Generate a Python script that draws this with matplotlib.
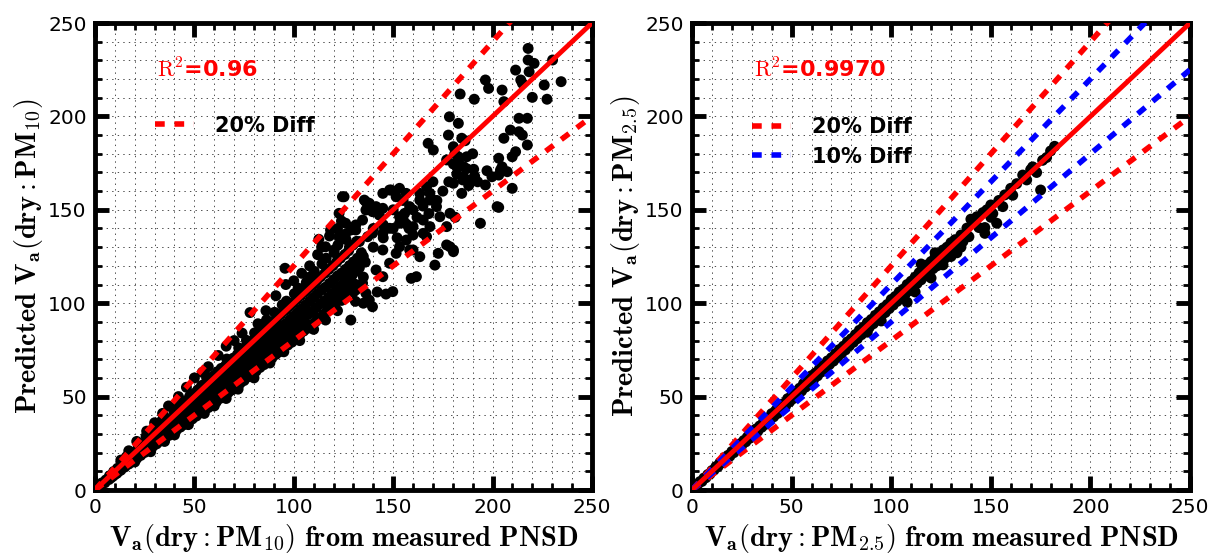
import matplotlib
matplotlib.use('Agg')
import matplotlib.pyplot as plt
import numpy as np
from matplotlib.ticker import MultipleLocator

plt.rcParams['mathtext.fontset'] = 'cm'
plt.rcParams['lines.scale_dashes'] = False

# ---- PM10 panel: dense band along the 1:1 line
pm10_core_x = [3, 3.5, 5, 5.5, 7, 7.3, 8, 9, 9.4, 10,
               11, 11.3, 12, 13, 13.2, 14, 15, 15.4, 16, 15.8,
               17, 17.5, 18, 19, 19.6, 20, 21, 21.3, 22, 21.8,
               23, 23.4, 24, 25, 25.5, 26, 25.7, 27, 27.3, 28,
               29, 29.4, 30, 29.6, 31, 31.5, 32, 33, 33.2, 34,
               33.5, 35, 35.3, 36, 35.6, 37, 37.4, 38, 39, 39.3,
               40, 39.7, 41, 41.4, 42, 41.6, 43, 43.3, 44, 43.5,
               45, 45.4, 46, 45.7, 47, 47.3, 48, 47.6, 49, 49.4,
               50, 49.6, 51, 51.3, 52, 51.7, 53, 53.4, 54, 53.6,
               55, 55.3, 56, 55.5, 56.2, 57, 57.4, 58, 57.6, 59,
               59.3, 60, 59.7, 61, 61.4, 62, 61.6, 63, 63.3, 64,
               63.5, 65, 65.4, 66, 65.7, 66.3, 67, 67.3, 68, 67.6,
               69, 69.4, 70, 69.6, 71, 71.3, 72, 71.7, 72.3, 73,
               73.4, 74, 73.6, 75, 75.3, 76, 75.5, 76.2, 77, 77.4,
               78, 77.6, 79, 79.3, 80, 79.7, 80.3, 81, 81.4, 82,
               81.6, 83, 83.3, 84, 83.5, 84.2, 85, 85.4, 86, 85.7,
               86.3, 87, 87.3, 88, 87.6, 89, 89.4, 90, 89.7, 90.3,
               91, 91.3, 92, 91.6, 93, 93.4, 94, 93.5, 94.2, 95,
               95.3, 96, 95.7, 96.3, 97, 97.4, 98, 97.6, 99, 99.3,
               100, 99.7, 100.3, 101, 101.4, 102, 101.6, 102.2, 103, 103.3,
               104, 103.5, 105, 105.4, 106, 105.7, 106.3, 107, 107.3, 108,
               107.6, 108.2, 109, 109.4, 110, 109.7, 110.3, 111, 111.3, 112,
               111.6, 113, 113.4, 114, 113.5, 114.2, 115, 115.3, 116, 115.7,
               116.3, 117, 117.4, 118, 117.6, 119, 119.3, 120, 119.7, 120.3,
               121, 121.4, 122, 121.6, 122.2, 123, 123.3, 124, 123.5, 125,
               125.4, 126, 125.7, 126.3, 127, 127.3, 128, 127.6, 129, 129.4,
               130, 129.7, 131, 131.3, 132, 131.6, 133, 134, 135, 136]
pm10_core_y = [2.5, 3.8, 3.9, 5.4, 5.6, 7.6, 6.5, 7.3, 9.9, 8.3,
               8.9, 11.6, 10.1, 10.6, 13.8, 12.1, 12.3, 16.6, 14.3, 17.8,
               13.9, 16.1, 18.6, 15.4, 17.7, 20.4, 16.9, 19.8, 22.6, 24.2,
               18.5, 21.3, 24.3, 20.1, 23.1, 26.6, 28.7, 21.6, 24.9, 28.2,
               23.2, 26.6, 30.3, 32.9, 24.7, 28.1, 31.6, 26.3, 29.9, 33.6,
               36.9, 27.6, 31.4, 35.3, 38.6, 29.1, 33.1, 36.9, 30.9, 34.6,
               38.6, 42.1, 32.1, 36.4, 40.3, 44.6, 33.7, 37.9, 42.1, 45.1,
               35.1, 39.6, 43.9, 47.6, 36.6, 41.1, 45.6, 50.1, 38.1, 42.9,
               47.3, 51.6, 39.6, 44.6, 49.1, 53.6, 41.3, 46.1, 51.1, 55.9,
               42.6, 47.6, 52.6, 57.1, 60.6, 44.1, 49.3, 54.6, 59.1, 45.9,
               51.1, 56.3, 61.1, 47.1, 52.6, 58.1, 63.3, 49.1, 54.3, 59.9,
               65.1, 50.6, 56.1, 61.6, 66.6, 70.1, 52.1, 57.6, 63.1, 68.6,
               53.6, 59.3, 65.1, 70.6, 55.1, 61.1, 67.1, 72.6, 76.1, 57.1,
               62.6, 68.6, 74.1, 58.6, 64.6, 70.6, 76.1, 80.1, 60.6, 66.1,
               72.1, 78.1, 62.1, 68.1, 74.1, 80.1, 84.1, 63.6, 70.1, 76.1,
               82.1, 65.6, 71.6, 78.1, 84.1, 88.6, 67.1, 73.6, 80.1, 86.1,
               91.1, 69.1, 75.1, 81.6, 88.1, 70.6, 77.1, 83.6, 90.1, 95.1,
               72.6, 79.1, 85.6, 92.1, 74.1, 80.6, 87.6, 94.1, 99.1, 76.1,
               82.6, 89.1, 96.1, 101.1, 77.6, 84.6, 91.1, 98.1, 79.1, 86.1,
               93.1, 100.1, 105.1, 81.1, 88.1, 95.1, 102.1, 108.1, 83.1, 90.1,
               97.1, 104.1, 85.1, 92.1, 99.1, 106.1, 111.1, 86.6, 94.1, 101.1,
               108.1, 114.1, 88.6, 95.6, 103.1, 110.1, 117.1, 90.1, 97.6, 105.1,
               112.1, 92.1, 99.6, 107.1, 114.1, 121.1, 94.1, 101.1, 108.6, 116.1,
               124.1, 96.1, 103.1, 110.6, 118.1, 98.1, 105.1, 112.6, 120.1, 127.1,
               100.1, 107.1, 114.6, 122.1, 131.1, 102.1, 109.1, 116.1, 124.1, 104.1,
               111.1, 118.1, 126.1, 134.1, 106.1, 113.1, 120.1, 128.1, 108.1, 115.1,
               122.1, 131.1, 110.1, 117.1, 124.1, 133.1, 119, 127, 114, 122]

# points on the upper / lower edges of the band
pm10_edge_x = [13, 17, 21, 26, 30, 34, 37, 42, 46, 50,
               54, 57, 62, 66, 70, 74, 78, 82, 86, 91,
               96, 100, 104, 108, 112, 114, 118, 122, 124, 126,
               20, 28, 35, 40, 47, 55, 60, 66, 72, 80,
               88, 95, 103, 110, 116, 122, 128.7, 131, 135, 139.6,
               138, 146.4, 149.8, 142, 159.1, 161.7, 171, 176.9, 180.3, 172.7,
               90, 94, 98, 102, 106, 112, 118, 124, 130, 134]
pm10_edge_y = [16, 21, 26, 31.5, 36, 41, 45, 50, 55, 60,
               63, 66, 72, 77, 80, 84, 95, 89, 96, 104,
               110, 112, 116, 120, 126, 130, 136, 140, 144, 137,
               15, 20.5, 26, 29.5, 35, 41, 45, 49, 54, 60,
               68, 74, 80, 86, 91, 96, 91, 101, 100, 98.1,
               101.7, 104.9, 106.2, 106, 113.3, 114.2, 120.4, 131.2, 128.5, 126.7,
               74, 77.5, 80.5, 84, 87, 92, 97, 101.5, 106, 109]

# scattered cloud between 110 and 210
pm10_mid_x = [95.6, 112.6, 125.3, 135.5, 138, 139.6, 143, 144.8, 137.2, 139.6,
              128.7, 131.2, 118.5, 122.8, 116, 120.3, 148.2, 153.2, 156.6, 163.4,
              166.8, 168.5, 171.8, 173.5, 176.9, 182, 185.4, 180.3, 184.5, 156.6,
              160, 153.2, 160, 163.4, 166.8, 144.8, 148.2, 141.4, 144.8, 134.6,
              131.2, 136.3, 124.5, 136.3, 144.8, 149, 151.5, 158.3, 155.8, 163.4,
              168.5, 170.2, 193.9, 178.6, 180.3, 165.1, 168.5, 165.1, 160, 148.2,
              144.8, 158.3, 151.5, 122.8, 126.1, 124.4, 131.2, 134.6, 136.3, 141.4,
              153.2, 153.2, 156.6, 135, 140, 145, 150, 155, 140, 150,
              160, 130, 128, 133, 145, 152, 158, 162, 168, 172,
              175, 178, 170, 165, 155, 183, 187, 190, 181, 191,
              185, 188, 204.8, 207.4, 203.1, 202.3]
pm10_mid_y = [118.7, 134.2, 157, 155.2, 153.5, 149, 147.2, 150.8, 135.6, 137.4,
              139.2, 141.9, 139.2, 135.6, 130.2, 128.5, 160.6, 161.5, 158.8, 158.8,
              162.4, 155.2, 151.7, 146.3, 141, 173.1, 167.7, 164.2, 158.8, 133.8,
              136.5, 130.2, 128.5, 124.9, 135.6, 128.5, 121.4, 117.8, 114.2, 110.7,
              107.1, 105.3, 157, 154.3, 158.8, 160.6, 157, 151.7, 148.1, 155.2,
              158.8, 155.2, 142.8, 130.2, 127.6, 144.5, 141, 137.4, 141, 140.1,
              137.4, 128.5, 126.7, 148.1, 142.8, 135.6, 139.2, 144.5, 149.9, 151.7,
              146.3, 142.8, 142.4, 125, 130, 135, 140, 145, 140, 150,
              150, 120, 130, 133, 142, 135, 140, 146, 148, 155,
              160, 165, 165, 152, 155, 175, 172, 180, 180, 168,
              166, 163, 173, 170.4, 168.6, 151.7]

# sparse high-value points
pm10_high_x = [217.9, 217.9, 220.9, 211.6, 218.4, 230.2, 234.5, 214.2, 215, 196.4,
               198, 204.8, 226, 183.7, 190.8, 220, 227.4, 205.7, 178.3, 182.8,
               213.3, 217.5, 209, 213.3, 215, 205.7, 177.8, 184.5, 186.2, 167.6,
               180.3, 170.2, 217.5, 211.6, 209.9, 203.1, 182.8, 187, 176.9, 180.3,
               185.4, 190.5, 197.2, 204, 199.7, 182, 188.8, 192.5, 196.4, 209.9,
               203.1, 178.6, 181.2]
pm10_high_y = [236.4, 230.2, 228.4, 224.8, 223.9, 230.2, 218.6, 219.5, 217.7, 219.5,
               215, 214.1, 216.8, 212, 209.2, 210.2, 209.2, 207.9, 199.8, 196.3,
               199, 199, 192.7, 191.8, 190, 188.3, 190, 188.3, 187, 185.6,
               183.8, 182, 184.7, 181.1, 178.4, 177.6, 178.4, 178.4, 176.7, 174.5,
               173.1, 171.7, 170.9, 171.3, 167.7, 169.2, 166, 165, 163.3, 161.5,
               151.3, 148.1, 146]

# ---- PM2.5 panel
pm25_x = [3, 4, 5, 6, 7, 8, 9, 10, 11, 12,
          13, 14, 15, 16, 17, 18, 19, 20, 21, 22,
          23, 24, 25, 26, 27, 28, 29, 30, 31, 32,
          33, 34, 35, 36, 37, 38, 39, 40, 41, 42,
          43, 44, 45, 46, 47, 48, 49, 50, 51, 52,
          53, 54, 55, 56, 57, 58, 59, 60, 61, 62,
          63, 64, 65, 66, 67, 68, 69, 70, 71, 72,
          73, 74, 75, 76, 77, 78, 79, 80, 81, 82,
          83, 84, 85, 86, 87, 88, 89, 90, 91, 92,
          93, 94, 95, 96, 97, 98, 99, 100, 101, 102,
          103, 104, 105, 106, 107, 108, 109, 110, 111, 112,
          113, 114, 115, 116, 117, 118, 119, 120, 121, 122,
          123, 124, 125, 126, 127, 128, 129, 130, 131, 132,
          133, 135, 136, 138, 139, 141, 143, 144, 146, 147,
          148, 150, 151, 153, 154, 156, 157, 160, 161, 163,
          166, 168, 170, 171, 173, 175, 176, 178, 180, 182,
          115, 118, 108, 112, 120, 88, 95, 60, 122, 126,
          130, 135, 140, 150, 147, 133]
pm25_y = [3.2, 4.5, 4.6, 6.4, 6.6, 8.3, 8.5, 10.4, 10.6, 12.5,
          12.4, 14.6, 14.5, 16.3, 16.2, 18.5, 18.1, 20.6, 20.0, 22.4,
          22.1, 24.7, 23.9, 26.5, 25.8, 28.6, 27.7, 30.2, 29.5, 32.6,
          31.4, 34.3, 33.6, 36.8, 35.2, 38.4, 37.3, 40.9, 39.2, 42.5,
          41.0, 44.8, 43.1, 46.3, 45.0, 48.9, 47.2, 50.6, 49.0, 52.8,
          51.2, 54.5, 53.0, 57.0, 55.1, 58.6, 57.3, 61.2, 59.0, 62.7,
          61.1, 65.0, 63.2, 66.8, 65.0, 69.1, 67.2, 70.8, 69.0, 73.0,
          71.0, 75.2, 73.1, 77.0, 75.0, 79.3, 77.2, 81.0, 79.1, 83.2,
          81.0, 85.5, 83.1, 87.2, 85.0, 89.6, 87.1, 91.3, 89.0, 93.5,
          91.0, 95.4, 93.1, 97.6, 95.0, 99.3, 97.1, 102.0, 99.0, 103.6,
          101.0, 106.0, 103.0, 107.5, 104.8, 110.0, 106.7, 111.8, 108.5, 114.0,
          110.6, 116.3, 112.5, 118.0, 114.6, 120.5, 116.5, 122.3, 118.5, 124.6,
          120.0, 126.2, 122.4, 128.5, 124.0, 130.0, 126.2, 132.4, 128.0, 134.0,
          130.0, 136.5, 133.0, 140.2, 135.6, 143.0, 146.3, 140.5, 148.5, 137.4,
          150.0, 152.6, 148.0, 142.8, 155.0, 151.7, 158.0, 161.5, 157.8, 164.0,
          168.6, 166.0, 171.5, 173.0, 170.0, 160.6, 176.5, 178.0, 181.5, 184.0,
          121, 117, 100.5, 106, 113.5, 84.5, 90.5, 56.5, 127, 120.5,
          125, 130, 145, 146, 140.5, 127]

line_x = np.array([0, 250])
ticks = [0, 50, 100, 150, 200, 250]


def style_axes(ax, xlab, ylab):
    ax.set_xlim(0, 250)
    ax.set_ylim(0, 250)
    ax.set_xticks(ticks)
    ax.set_yticks(ticks)
    ax.xaxis.set_minor_locator(MultipleLocator(10))
    ax.yaxis.set_minor_locator(MultipleLocator(10))
    ax.grid(which='both', color='0.3', linestyle=(0, (1, 3)), linewidth=0.7)
    ax.set_axisbelow(True)
    ax.tick_params(which='major', direction='in', length=10, width=3.5,
                   top=True, right=True, labelsize=14.5, pad=6)
    ax.tick_params(which='minor', direction='in', length=5, width=2,
                   top=True, right=True)
    for s in ax.spines.values():
        s.set_linewidth(3.5)
    ax.set_xlabel(xlab, fontsize=20.5, labelpad=3)
    ax.set_ylabel(ylab, fontsize=20.5, labelpad=2)


fig = plt.figure(figsize=(12.1, 5.56), dpi=100)
ax1 = fig.add_axes([0.0785, 0.1187, 0.4107, 0.8399])
ax2 = fig.add_axes([0.5719, 0.1187, 0.4116, 0.8399])

dot = 62

# left panel
for xs, ys in [(pm10_core_x, pm10_core_y), (pm10_edge_x, pm10_edge_y),
               (pm10_mid_x, pm10_mid_y), (pm10_high_x, pm10_high_y)]:
    ax1.scatter(xs, ys, s=dot, c='k', edgecolors='none', zorder=2)
ax1.plot(line_x, 1.2 * line_x, color='r', lw=4, dashes=(7, 7), label='20% Diff', zorder=3)
ax1.plot(line_x, 0.8 * line_x, color='r', lw=4, dashes=(7, 7), zorder=3)
ax1.plot(line_x, line_x, color='r', lw=3.5, zorder=4)
ax1.text(31, 225, r'$\mathrm{R}^2$' + '=0.96', color='r', fontsize=16,
         fontweight='bold', va='center')
ax1.legend(loc='center left', bbox_to_anchor=(0.12, 0.78), frameon=False,
           prop=dict(weight='bold', size=15), handlelength=1.9,
           handletextpad=1.0, borderaxespad=0, borderpad=0)
style_axes(ax1, r'$\mathbf{V_a(dry:PM_{10})\ from\ measured\ PNSD}$',
           r'$\mathbf{Predicted\ V_a(dry:PM_{10})}$')

# right panel
ax2.scatter(pm25_x, pm25_y, s=dot, c='k', edgecolors='none', zorder=2)
ax2.plot(line_x, 1.2 * line_x, color='r', lw=4, dashes=(7, 7), label='20% Diff', zorder=3)
ax2.plot(line_x, 0.8 * line_x, color='r', lw=4, dashes=(7, 7), zorder=3)
ax2.plot(line_x, 1.1 * line_x, color='b', lw=4, dashes=(7, 7), label='10% Diff', zorder=3)
ax2.plot(line_x, 0.9 * line_x, color='b', lw=4, dashes=(7, 7), zorder=3)
ax2.plot(line_x, line_x, color='r', lw=3.5, zorder=4)
ax2.text(31, 225, r'$\mathrm{R}^2$' + '=0.9970', color='r', fontsize=16,
         fontweight='bold', va='center')
ax2.legend(loc='center left', bbox_to_anchor=(0.12, 0.745), frameon=False,
           prop=dict(weight='bold', size=15), handlelength=1.9,
           handletextpad=1.0, borderaxespad=0, borderpad=0, labelspacing=0.45)
style_axes(ax2, r'$\mathbf{V_a(dry:PM_{2.5})\ from\ measured\ PNSD}$',
           r'$\mathbf{Predicted\ V_a(dry:PM_{2.5})}$')

fig.savefig('out.png', dpi=100)
